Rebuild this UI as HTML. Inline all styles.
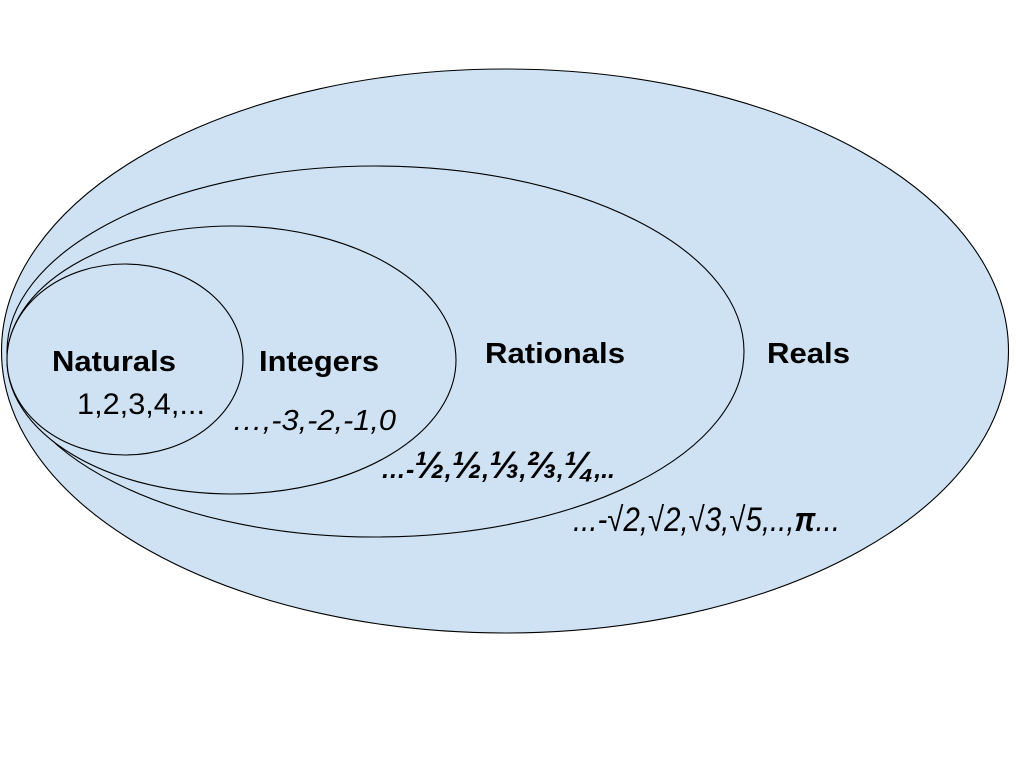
<!DOCTYPE html>
<html>
<head>
<meta charset="utf-8">
<style>
  html, body { margin: 0; padding: 0; background: #ffffff; }
  body { width: 1024px; height: 768px; overflow: hidden; }
  svg { display: block; }
  text { font-family: "Liberation Sans", "DejaVu Sans", sans-serif; fill: #000; }
</style>
</head>
<body>
<svg width="1024" height="768" viewBox="0 0 1024 768" xmlns="http://www.w3.org/2000/svg">
  <rect x="0" y="0" width="1024" height="768" fill="#ffffff"/>
  <!-- Reals -->
  <ellipse cx="505" cy="351" rx="503.5" ry="282" fill="#cfe2f3" stroke="#000" stroke-width="1.1"/>
  <!-- Rationals -->
  <ellipse cx="375.5" cy="351.5" rx="368.5" ry="185.5" fill="#cfe2f3" stroke="#000" stroke-width="1.1"/>
  <!-- Integers -->
  <ellipse cx="231.5" cy="360" rx="224.5" ry="134" fill="#cfe2f3" stroke="#000" stroke-width="1.1"/>
  <!-- Naturals -->
  <ellipse cx="125" cy="359.5" rx="118" ry="95.5" fill="#cfe2f3" stroke="#000" stroke-width="1.1"/>

  <!-- Labels -->
  <text x="52" y="371" font-size="29" font-weight="bold" textLength="124" lengthAdjust="spacingAndGlyphs">Naturals</text>
  <text x="77" y="414" font-size="30" textLength="128" lengthAdjust="spacingAndGlyphs">1,2,3,4,...</text>

  <text x="259" y="371" font-size="29" font-weight="bold" textLength="120" lengthAdjust="spacingAndGlyphs">Integers</text>
  <text x="232" y="430" font-size="29" font-style="italic" textLength="164" lengthAdjust="spacingAndGlyphs">…,-3,-2,-1,0</text>

  <text x="485" y="363" font-size="29" font-weight="bold" textLength="140" lengthAdjust="spacingAndGlyphs">Rationals</text>
  <text x="381" y="478" font-size="26" font-weight="bold" font-style="italic" textLength="234" lengthAdjust="spacingAndGlyphs">…-<tspan font-size="38">½</tspan>,<tspan font-size="38">½</tspan>,<tspan font-size="38">⅓</tspan>,<tspan font-size="38">⅔</tspan>,<tspan font-size="38">¼</tspan>,..</text>

  <text x="767" y="363" font-size="29" font-weight="bold" textLength="83" lengthAdjust="spacingAndGlyphs">Reals</text>
  <text x="573" y="531" font-size="34" font-style="italic" textLength="267" lengthAdjust="spacingAndGlyphs">...-√2,√2,√3,√5,..,<tspan font-weight="bold">π</tspan>...</text>
</svg>
</body>
</html>
